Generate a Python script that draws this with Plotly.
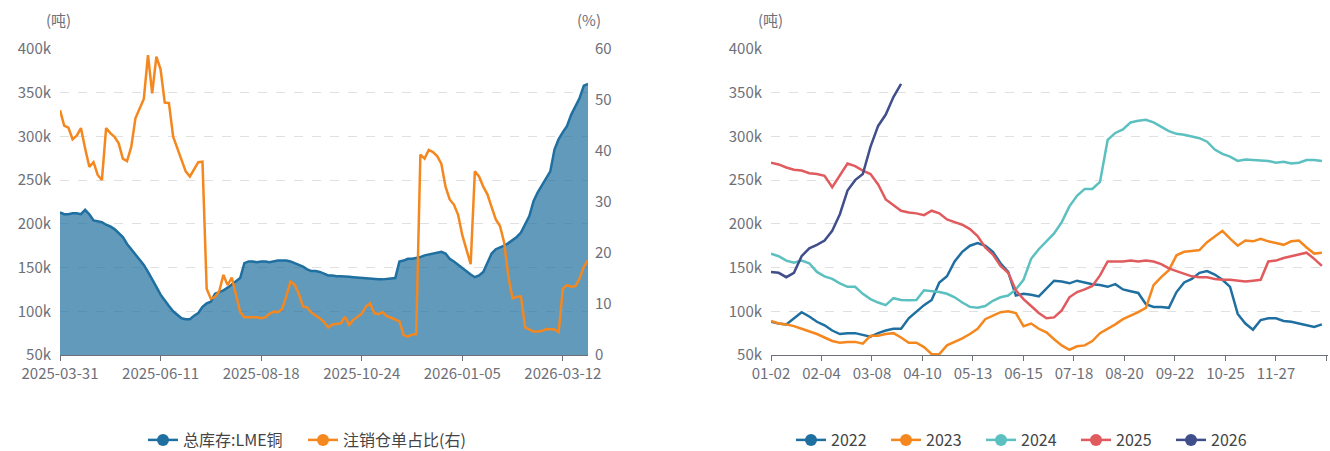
import pandas as pd
import plotly.graph_objects as go

# ---- left chart: LME copper stocks vs cancelled-warrant share (every 2nd trading day) ----
lme_holidays = ["2025-04-18", "2025-04-21", "2025-05-05", "2025-05-26", "2025-08-25",
                "2025-12-25", "2025-12-26", "2026-01-01"]
trade_days = (pd.bdate_range("2025-03-31", "2026-03-30", freq="C", holidays=lme_holidays)[::2]
              .strftime("%Y-%m-%d").tolist())

stock_k = [213, 211, 211, 212, 212, 211, 216, 211, 204, 203,
           202, 199, 197, 194, 190, 185, 177, 171, 166, 160,
           153, 145, 137, 128, 119, 112, 106, 100, 96, 92,
           91, 91, 95, 98, 105, 109, 111, 120, 122, 124,
           127, 131, 134, 138, 155, 157, 157, 156, 157, 157,
           156, 157, 158, 158, 158, 157, 155, 153, 151, 148,
           146, 146, 145, 143, 141, 141, 140, 140, 140, 139.5,
           139, 138.5, 138, 137.5, 137.5, 137, 136.5, 136.5, 137, 137.5,
           138, 157, 158, 160, 160, 161, 162, 164, 165, 166,
           167, 168, 166, 160, 157, 153, 150, 146, 142, 139,
           141, 145, 155, 166, 171, 173, 175, 178, 181, 185,
           190, 199, 209, 226, 236, 244, 252, 260, 285, 297,
           305, 312, 325, 335, 344, 358, 360]

cancel_pct = [48.0, 45.0, 44.6, 42.3, 43.0, 44.5, 40.5, 36.9, 37.8, 35.3,
              34.3, 44.5, 43.5, 42.8, 41.5, 38.5, 38.0, 40.8, 46.4, 48.2,
              50.2, 58.8, 51.3, 58.5, 56.0, 49.5, 49.4, 42.8, 40.5, 38.5,
              36.0, 35.0, 36.5, 37.8, 37.9, 13.0, 11.0, 11.4, 12.5, 15.7,
              13.7, 15.2, 11.8, 8.4, 7.4, 7.4, 7.5, 7.4, 7.2, 7.4,
              8.1, 8.5, 8.4, 9.0, 11.5, 14.4, 13.8, 12.0, 9.5, 9.3,
              8.3, 7.8, 7.2, 6.5, 5.4, 6.0, 6.1, 6.2, 7.5, 5.9,
              6.9, 7.5, 8.1, 9.5, 10.1, 8.2, 8.0, 8.4, 7.6, 7.3,
              7.0, 6.6, 3.9, 3.6, 4.0, 4.1, 39.3, 38.5, 40.2, 39.8,
              39.0, 37.5, 33.0, 30.5, 29.5, 27.5, 23.5, 20.7, 17.8, 36.0,
              35.0, 33.0, 31.5, 29.0, 26.6, 25.3, 22.0, 15.4, 11.1, 11.4,
              11.5, 5.4, 5.0, 4.6, 4.6, 4.7, 5.1, 5.1, 5.0, 4.5,
              13.0, 13.7, 13.4, 13.5, 15.0, 17.3, 18.6]

# ---- right chart: seasonal stocks (every 5th day) ----
season_days = pd.date_range("2024-01-02", "2024-12-31").strftime("%m-%d").tolist()
sample_days = season_days[::5]

y2022 = [88, 86, 85, 92, 99, 94, 88, 84, 78, 74,
         75, 75, 73, 71, 75, 78, 80, 80, 92, 100,
         107, 113, 133, 140, 157, 168, 175, 178, 175, 168,
         155, 145, 118, 120, 119, 117, 126, 135, 134, 132,
         135, 133, 131, 130, 128, 131, 125, 123, 121, 108,
         105, 105, 104, 122, 133, 137, 144, 146, 142, 136,
         128, 97, 86, 79, 90, 92, 92, 89, 88, 86,
         84, 82, 85]
y2023 = [89, 86, 85, 83, 80, 77, 74, 70, 66, 64,
         65, 65, 63, 72, 72, 74, 75, 70, 64, 64,
         59, 51, 51, 61, 65, 69, 74, 80, 91, 95,
         99, 100, 98, 83, 86, 80, 76, 68, 61, 56,
         60, 61, 66, 75, 80, 85, 91, 95, 99, 104,
         130, 139, 147, 164, 168, 169, 170, 179, 186, 192,
         183, 175, 181, 180, 183, 180, 178, 176, 180, 181,
         173, 166, 167]
y2024 = [166, 163, 158, 155.5, 158, 155, 145, 140, 137, 132,
         128, 128, 120, 114, 110, 107, 115, 113, 112.5, 113,
         124, 123, 122, 120, 116, 110, 105, 104, 106, 112,
         116, 118, 125, 136, 160, 171, 180, 189, 202, 220,
         232, 240, 240, 248, 296, 304, 308, 316, 318, 319,
         316, 311, 306, 303, 302, 300, 298, 294, 285, 280,
         277, 272, 273.5, 273, 272.5, 272, 270, 271, 269, 270,
         273, 273, 272]
y2025 = [270, 268, 264.5, 262, 261, 258, 257, 255, 242, 255,
         269, 266, 261, 257, 245, 228, 221, 215, 213, 212,
         210, 215, 212, 205, 202, 199, 194, 186, 173, 165,
         152, 144, 124, 114, 106, 98, 92, 93, 101, 116,
         122, 125, 129, 141, 157, 157, 157, 158, 157, 158,
         157, 154, 149, 146, 143, 140, 139, 139, 137, 136,
         136, 135, 134, 135, 136, 157, 158, 161, 163, 165,
         167, 160, 152]
y2026 = [145, 144, 139, 144, 163, 172, 176, 181, 192, 211,
         238, 250, 257, 288, 312, 325, 345, 360]

years = ["2022", "2023", "2024", "2025", "2026"]
year_vals = [y2022, y2023, y2024, y2025, y2026]
year_colors = ["#1f6fa0", "#f5871f", "#5bc0bf", "#e05a5e", "#404f8c"]

W, H = 1330, 451
def fx(p):
    return p / W
def fy(p):
    return 1 - p / H

FONT = "Noto Sans CJK SC"
GRAY = "#6e7079"
ydom = [fy(355), fy(49)]

fig = go.Figure()

fig.add_trace(go.Scatter(x=trade_days, y=stock_k, mode="lines", fill="tozeroy",
                         line=dict(color="#1f6fa0", width=2.5),
                         fillcolor="rgba(31,111,160,0.7)",
                         xaxis="x", yaxis="y", showlegend=False))
fig.add_trace(go.Scatter(x=trade_days, y=cancel_pct, mode="lines",
                         line=dict(color="#f5871f", width=2.5),
                         xaxis="x", yaxis="y2", showlegend=False))

for name, vals, col in zip(years, year_vals, year_colors):
    fig.add_trace(go.Scatter(x=sample_days[:len(vals)], y=vals, mode="lines",
                             line=dict(color=col, width=2.5),
                             xaxis="x2", yaxis="y3", showlegend=False))

# legend entries (line + dot icons)
for name, col, lw in [("总库存:LME铜", "#1f6fa0", 115), ("注销仓单占比(右)", "#f5871f", 145)]:
    fig.add_trace(go.Scatter(x=[None], y=[None], mode="lines+markers", name=name,
                             line=dict(color=col, width=2.5), marker=dict(size=12, color=col),
                             xaxis="x", yaxis="y", legend="legend", legendwidth=lw))
for name, col in zip(years, year_colors):
    fig.add_trace(go.Scatter(x=[None], y=[None], mode="lines+markers", name=name,
                             line=dict(color=col, width=2.5), marker=dict(size=12, color=col),
                             xaxis="x2", yaxis="y3", legend="legend2", legendwidth=50))

tickfont = dict(family=FONT, size=15, color=GRAY)
yticks = list(range(50, 401, 50))
ytext = [f"{v}k" for v in yticks]

xt_right = season_days[::33]
legend_font = dict(family=FONT, size=16, color="#444")
unit_font = dict(family=FONT, size=15, color=GRAY)
fig.update_layout(
    width=W, height=H, margin=dict(l=0, r=0, t=0, b=0, autoexpand=False),
    template="none", paper_bgcolor="white", plot_bgcolor="white",
    font=dict(family=FONT, color="#333"),
    xaxis=dict(domain=[fx(60), fx(588)], type="category", range=[0, len(trade_days) - 1],
               tickvals=trade_days[::24], ticks="outside", ticklen=5, tickcolor=GRAY,
               showline=True, linecolor=GRAY, linewidth=1, showgrid=False, tickfont=tickfont),
    yaxis=dict(domain=ydom, anchor="x", range=[50, 400], tickvals=yticks, ticktext=ytext,
               showgrid=True, gridcolor="#e0e0e0", griddash="dash", zeroline=False,
               showline=False, ticks="", tickfont=tickfont, ticklabelstandoff=8),
    yaxis2=dict(overlaying="y", anchor="x", side="right", range=[0, 60], dtick=10,
                showgrid=False, zeroline=False, showline=False, ticks="", tickfont=tickfont,
                ticklabelstandoff=6),
    xaxis2=dict(domain=[fx(771), fx(1328)], anchor="y3", type="category",
                categoryorder="array", categoryarray=season_days, range=[0, len(season_days) - 1],
                tickvals=xt_right, ticktext=xt_right[:-1] + [""],
                ticks="outside", ticklen=5, tickcolor=GRAY,
                showline=True, linecolor=GRAY, linewidth=1, showgrid=False, tickfont=tickfont),
    yaxis3=dict(domain=ydom, anchor="x2", range=[50, 400], tickvals=yticks, ticktext=ytext,
                showgrid=True, gridcolor="#e0e0e0", griddash="dash", zeroline=False,
                showline=False, ticks="", tickfont=tickfont, ticklabelstandoff=8),
    legend=dict(orientation="h", x=fx(143), xanchor="left", y=fy(440), yanchor="middle",
                font=legend_font, itemwidth=30, bgcolor="rgba(0,0,0,0)"),
    legend2=dict(orientation="h", x=fx(791), xanchor="left", y=fy(440), yanchor="middle",
                 font=legend_font, itemwidth=30, bgcolor="rgba(0,0,0,0)"),
    annotations=[
        dict(text="(吨)", x=fx(58), y=fy(20), xref="paper", yref="paper", showarrow=False,
             xanchor="center", yanchor="middle", font=unit_font),
        dict(text="(%)", x=fx(589), y=fy(20), xref="paper", yref="paper", showarrow=False,
             xanchor="center", yanchor="middle", font=unit_font),
        dict(text="(吨)", x=fx(770), y=fy(20), xref="paper", yref="paper", showarrow=False,
             xanchor="center", yanchor="middle", font=unit_font),
    ],
    showlegend=True,
)

# drop the default 8px body margin so the figure fills the window exactly
fig.write_html("out.html", config={"displayModeBar": False},
               post_script="document.body.style.margin='0';")
